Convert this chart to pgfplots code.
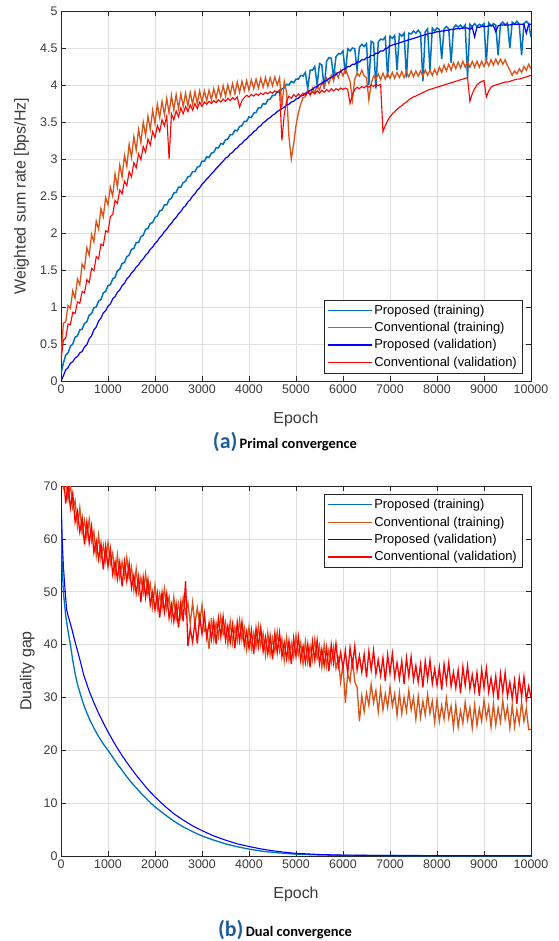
\documentclass[border=0pt]{standalone}
\usepackage{fontspec}
\setmainfont{Liberation Sans}
\newfontfamily\capfont{Carlito}
\usepackage{pgfplots}
\usepackage{pgfplotstable}
\pgfplotsset{compat=1.18}
\definecolor{mlblue}{HTML}{0072BD}
\definecolor{mlorange}{HTML}{D95319}
\definecolor{pureblue}{HTML}{0000FF}
\definecolor{purered}{HTML}{FF0000}
\definecolor{capblue}{HTML}{1B5E9B}
\definecolor{mlgrid}{HTML}{DFDFDF}
\definecolor{mltext}{HTML}{3A3A3A}

% primal: epoch, proposed (training), proposed (validation), conventional (training), conventional (validation)
\pgfplotstableread{
x pt pv ct cv
0 0.10 0.00 0.30 0.28
50 0.24 0.07 0.78 0.55
100 0.35 0.15 0.80 0.58
150 0.38 0.18 1.02 0.77
200 0.47 0.24 0.98 0.76
250 0.50 0.26 1.22 0.93
300 0.59 0.31 1.12 0.91
350 0.61 0.33 1.38 1.07
400 0.69 0.38 1.30 1.05
450 0.70 0.40 1.58 1.21
500 0.78 0.46 1.52 1.19
550 0.80 0.49 1.80 1.37
600 0.89 0.57 1.70 1.33
650 0.91 0.61 1.98 1.52
700 0.99 0.69 1.88 1.49
750 1.00 0.73 2.16 1.68
800 1.08 0.81 2.05 1.65
850 1.10 0.85 2.33 1.85
900 1.19 0.92 2.22 1.83
950 1.21 0.95 2.48 2.03
1000 1.29 1.01 2.38 2.01
1050 1.30 1.04 2.62 2.22
1100 1.38 1.11 2.50 2.25
1150 1.40 1.14 2.80 2.44
1200 1.49 1.20 2.62 2.40
1250 1.51 1.23 2.92 2.58
1300 1.59 1.29 2.76 2.53
1350 1.60 1.32 3.05 2.70
1400 1.68 1.38 2.90 2.64
1450 1.70 1.41 3.20 2.83
1500 1.78 1.46 3.02 2.76
1550 1.79 1.49 3.30 2.95
1600 1.87 1.54 3.12 2.88
1650 1.87 1.57 3.40 3.07
1700 1.95 1.62 3.22 2.99
1750 1.97 1.65 3.50 3.17
1800 2.05 1.70 3.32 3.09
1850 2.06 1.73 3.58 3.27
1900 2.13 1.78 3.40 3.19
1950 2.14 1.81 3.66 3.37
2000 2.21 1.86 3.48 3.29
2050 2.23 1.89 3.74 3.45
2100 2.30 1.94 3.56 3.37
2150 2.31 1.97 3.78 3.53
2200 2.38 2.02 3.60 3.45
2250 2.38 2.05 3.82 3.58
2300 2.45 2.10 3.62 3.00
2350 2.47 2.13 3.86 3.61
2400 2.54 2.18 3.66 3.53
2450 2.55 2.21 3.87 3.65
2500 2.62 2.26 3.68 3.57
2550 2.62 2.29 3.88 3.69
2600 2.68 2.34 3.71 3.61
2650 2.70 2.37 3.89 3.71
2700 2.76 2.42 3.72 3.64
2750 2.77 2.45 3.90 3.73
2800 2.83 2.50 3.74 3.66
2850 2.83 2.53 3.91 3.75
2900 2.89 2.58 3.75 3.68
2950 2.90 2.61 3.92 3.77
3000 2.97 2.66 3.77 3.71
3050 2.97 2.69 3.92 3.77
3100 3.03 2.73 3.79 3.74
3150 3.02 2.76 3.93 3.78
3200 3.08 2.80 3.80 3.75
3250 3.09 2.83 3.95 3.79
3300 3.15 2.87 3.82 3.76
3350 3.15 2.90 3.97 3.80
3400 3.21 2.94 3.84 3.77
3450 3.20 2.97 3.99 3.81
3500 3.26 3.01 3.85 3.78
3550 3.27 3.03 4.00 3.82
3600 3.33 3.07 3.87 3.79
3650 3.33 3.09 4.02 3.83
3700 3.39 3.13 3.88 3.80
3750 3.38 3.15 4.04 3.84
3800 3.44 3.19 3.90 3.70
3850 3.45 3.21 4.05 3.79
3900 3.51 3.25 3.92 3.83
3950 3.51 3.27 4.06 3.86
4000 3.57 3.31 3.93 3.84
4050 3.56 3.33 4.07 3.87
4100 3.62 3.37 3.95 3.85
4150 3.63 3.39 4.08 3.88
4200 3.69 3.43 3.96 3.86
4250 3.69 3.45 4.09 3.89
4300 3.75 3.49 3.97 3.87
4350 3.74 3.51 4.10 3.90
4400 3.80 3.54 3.98 3.88
4450 3.81 3.56 4.10 3.91
4500 3.86 3.59 3.99 3.89
4550 3.86 3.61 4.11 3.92
4600 3.91 3.64 4.00 3.90
4650 3.90 3.66 4.10 3.93
4700 3.95 3.68 3.70 3.25
4750 3.96 3.70 4.05 3.60
4800 4.01 3.73 3.90 3.78
4850 4.00 3.74 3.30 3.85
4900 4.05 3.77 3.00 3.82
4950 4.03 3.78 3.20 3.87
5000 4.08 3.81 3.45 3.84
5050 4.08 3.82 3.62 3.88
5100 4.13 3.85 3.74 3.85
5150 4.12 3.86 3.83 3.89
5200 4.17 3.89 3.84 3.86
5250 3.95 3.90 3.94 3.90
5300 4.20 3.93 3.86 3.87
5350 4.20 3.94 3.96 3.91
5400 4.25 3.97 3.89 3.88
5450 4.00 3.98 4.00 3.92
5500 4.29 4.01 3.93 3.89
5550 4.27 4.02 4.04 3.93
5600 3.95 4.05 3.97 3.90
5650 4.32 4.06 4.09 3.94
5700 4.37 4.09 4.02 3.91
5750 4.36 4.10 4.13 3.95
5800 4.10 4.13 4.06 3.92
5850 4.38 4.14 4.17 3.95
5900 4.42 4.17 4.10 3.93
5950 4.42 4.18 4.20 3.96
6000 4.46 4.21 4.12 3.94
6050 4.15 4.22 4.22 3.96
6100 4.49 4.25 4.14 3.94
6150 4.46 4.25 4.05 3.75
6200 4.50 4.28 3.80 3.86
6250 4.49 4.28 4.08 3.94
6300 4.20 4.31 4.16 3.97
6350 4.51 4.31 4.12 3.95
6400 4.55 4.34 4.20 3.98
6450 4.52 4.34 4.12 3.96
6500 4.56 4.37 4.10 3.99
6550 4.00 4.37 3.80 3.97
6600 4.59 4.40 4.02 4.00
6650 4.57 4.40 4.12 3.98
6700 3.95 4.43 4.08 4.01
6750 4.58 4.43 4.15 3.99
6800 4.62 4.46 4.07 4.01
6850 4.61 4.46 4.16 3.37
6900 4.65 4.49 4.08 3.45
6950 4.10 4.50 4.16 3.52
7000 4.66 4.53 4.09 3.57
7050 4.63 4.54 4.17 3.61
7100 4.67 4.55 4.09 3.64
7150 4.20 4.56 4.17 3.67
7200 4.69 4.57 4.10 3.70
7250 4.66 4.58 4.18 3.72
7300 4.70 4.59 4.10 3.75
7350 4.10 4.60 4.18 3.77
7400 4.70 4.61 4.11 3.80
7450 4.69 4.62 4.19 3.82
7500 4.73 4.63 4.11 3.84
7550 4.70 4.64 4.19 3.85
7600 4.74 4.65 4.12 3.87
7650 4.70 4.66 4.19 3.88
7700 4.05 4.67 4.12 3.90
7750 4.72 4.68 4.20 3.91
7800 4.76 4.69 4.13 3.93
7850 4.20 4.70 4.20 3.94
7900 4.77 4.70 4.13 3.95
7950 4.73 4.71 4.21 3.96
8000 4.77 4.72 4.14 3.97
8050 4.75 4.72 4.24 3.98
8100 4.35 4.73 4.17 3.99
8150 4.76 4.73 4.27 4.00
8200 4.79 4.74 4.19 4.01
8250 4.76 4.74 4.28 4.02
8300 4.30 4.75 4.20 4.03
8350 4.77 4.75 4.30 4.04
8400 4.81 4.76 4.22 4.05
8450 4.78 4.76 4.31 4.06
8500 4.81 4.76 4.23 4.07
8550 4.77 4.77 4.32 4.08
8600 4.81 4.77 4.24 4.09
8650 4.10 4.77 4.32 4.10
8700 4.82 4.75 4.24 3.78
8750 4.79 4.78 4.32 3.88
8800 4.83 4.65 4.24 3.95
8850 4.79 4.78 4.32 4.00
8900 4.82 4.78 4.24 4.03
8950 4.80 4.79 4.32 4.05
9000 4.83 4.79 4.25 4.06
9050 4.30 4.79 4.33 3.84
9100 4.84 4.80 4.26 3.92
9150 4.80 4.80 4.34 3.97
9200 4.83 4.80 4.27 3.99
9250 4.81 4.72 4.35 4.00
9300 4.40 4.80 4.28 4.01
9350 4.82 4.81 4.35 4.02
9400 4.85 4.81 4.28 4.03
9450 4.81 4.81 4.34 4.04
9500 4.84 4.81 4.26 4.04
9550 4.50 4.81 4.20 4.05
9600 4.85 4.82 4.13 4.06
9650 4.82 4.82 4.19 4.07
9700 4.86 4.82 4.15 4.08
9750 4.82 4.82 4.22 4.08
9800 4.40 4.82 4.17 4.09
9850 4.83 4.82 4.25 4.10
9900 4.86 4.70 4.20 4.11
9950 4.83 4.82 4.28 4.12
10000 4.65 4.82 4.22 4.13
}\primal

% dual: epoch, conventional (training), conventional (validation)
\pgfplotstableread{
x ct cv
0 74.6 70.0
50 69.6 72.5
100 71.3 66.7
150 67.5 70.4
200 70.3 65.8
250 65.8 68.6
300 67.2 63.2
350 62.4 65.2
400 65.9 61.3
450 61.1 64.0
500 63.5 58.9
550 60.3 63.2
600 63.7 59.2
650 59.6 62.4
700 61.4 57.4
750 56.8 59.6
800 60.7 56.1
850 56.2 59.1
900 58.8 54.2
950 55.8 58.7
1000 59.3 54.8
1050 55.3 58.1
1100 57.3 53.3
1150 52.9 55.7
1200 57.0 52.4
1250 52.7 55.6
1300 55.6 51.0
1350 52.8 55.7
1400 56.5 52.0
1450 52.6 55.4
1500 54.7 50.7
1550 50.3 53.1
1600 54.3 49.7
1650 49.9 52.8
1700 52.7 48.1
1750 49.8 52.7
1800 53.4 48.9
1850 49.5 52.3
1900 51.5 47.5
1950 47.1 49.9
2000 51.2 46.6
2050 46.8 49.7
2100 49.7 45.1
2150 46.9 49.8
2200 50.6 46.1
2250 46.8 49.6
2300 49.0 45.0
2350 44.8 47.6
2400 49.0 44.4
2450 44.8 47.7
2500 47.8 43.2
2550 45.1 48.0
2600 48.9 44.4
2650 46.0 52.0
2700 47.9 39.7
2750 43.9 43.0
2800 48.0 40.5
2850 43.8 44.3
2900 47.0 40.2
2950 44.0 45.3
3000 47.5 42.0
3050 42.5 45.8
3100 42.9 41.3
3150 39.2 44.1
3200 45.0 41.0
3250 40.9 44.4
3300 44.1 40.1
3350 41.5 45.0
3400 45.4 41.5
3450 41.9 45.3
3500 44.2 40.8
3550 40.1 43.5
3600 44.4 40.4
3650 40.3 43.8
3700 43.3 39.3
3750 40.7 44.2
3800 44.6 40.7
3850 40.9 44.3
3900 43.2 39.8
3950 39.1 42.5
4000 43.3 39.3
4050 39.2 42.7
4100 42.2 38.2
4150 39.6 43.1
4200 43.5 39.6
4250 39.8 43.2
4300 42.1 38.7
4350 38.0 41.4
4400 42.2 38.2
4450 38.1 41.6
4500 41.2 37.2
4550 38.6 42.1
4600 42.4 38.5
4650 38.8 42.2
4700 41.1 37.7
4750 37.0 40.4
4800 41.3 37.3
4850 37.2 40.7
4900 40.3 36.3
4950 37.7 41.2
5000 41.7 37.8
5050 38.1 41.5
5100 40.4 37.0
5150 36.3 39.7
5200 40.6 36.6
5250 36.6 40.1
5300 39.7 35.7
5350 37.1 40.6
5400 41.0 37.1
5450 37.4 40.8
5500 39.8 36.4
5550 35.7 39.1
5600 40.0 36.0
5650 35.9 39.4
5700 39.0 35.0
5750 36.5 40.0
5800 39.5 36.5
5850 35.5 40.2
5900 37.4 35.8
5950 32.9 38.5
6000 36.3 35.5
6050 29.0 38.9
6100 34.5 34.5
6150 33.0 39.4
6200 37.5 36.0
6250 33.0 39.7
6300 31.9 35.2
6350 25.5 37.9
6400 30.3 34.8
6450 27.3 38.2
6500 30.8 33.8
6550 28.5 38.7
6600 32.5 35.2
6650 29.0 38.9
6700 31.3 34.4
6750 27.3 37.1
6800 31.6 34.1
6850 27.6 37.5
6900 30.7 33.1
6950 28.1 38.1
7000 32.0 34.6
7050 28.4 38.3
7100 30.7 33.9
7150 26.6 36.6
7200 30.9 33.5
7250 26.9 36.9
7300 30.0 32.6
7350 27.4 37.5
7400 31.3 34.0
7450 27.7 37.7
7500 30.0 33.3
7550 25.9 36.0
7600 30.2 32.9
7650 26.2 36.3
7700 29.3 31.9
7750 26.7 36.9
7800 30.6 33.4
7850 27.0 37.1
7900 29.3 32.6
7950 25.3 35.4
8000 29.6 32.3
8050 25.5 35.7
8100 28.5 31.4
8150 25.9 36.3
8200 29.8 32.8
8250 26.1 36.6
8300 28.4 32.1
8350 24.3 34.8
8400 28.6 31.8
8450 24.4 35.2
8500 27.5 30.8
8550 25.1 35.8
8600 29.1 32.3
8650 25.7 36.0
8700 28.1 31.6
8750 24.2 34.3
8800 28.6 31.3
8850 24.7 34.7
8900 27.9 30.3
8950 25.5 35.3
9000 29.5 31.8
9050 26.0 35.5
9100 28.4 31.0
9150 24.4 33.7
9200 28.8 30.6
9250 24.8 34.0
9300 28.0 29.6
9350 25.4 34.5
9400 29.4 31.0
9450 25.9 34.7
9500 28.2 30.2
9550 24.2 32.9
9600 28.6 29.8
9650 24.5 33.2
9700 27.7 28.8
9750 25.1 33.7
9800 29.1 30.2
9850 25.5 33.9
9900 27.9 29.4
9950 23.9 32.1
10000 24.0 30.0
}\dual

\pgfplotsset{
  mlstyle/.style={
    scale only axis, width=470bp, height=370bp,
    xmin=0, xmax=10000, xtick={0,1000,...,10000},
    scaled x ticks=false,
    /pgf/number format/1000 sep={},
    /pgf/number format/assume math mode=true,
    grid=major, major grid style={mlgrid, line width=0.6bp},
    axis line style={black!85, line width=0.6bp},
    tick style={black!85, line width=0.6bp},
    tick align=inside, major tick length=4.7bp,
    tick label style={font=\fontsize{12.5}{14}\selectfont, text=mltext},
    label style={font=\fontsize{16}{18}\selectfont, text=mltext},
    xlabel={Epoch},
    xlabel style={at={(axis description cs:0.5,-0.103)}, anchor=center},
    legend cell align=left,
    legend style={draw=black!85, line width=0.5bp, fill=white,
      font=\fontsize{13}{15}\selectfont, inner xsep=3bp, inner ysep=3bp,
      row sep=2.5bp},
    legend image code/.code={\draw[#1, line width=1.2bp] (0bp,0bp) -- (44bp,0bp);},
    every axis plot/.append style={line width=1.1bp},
  }
}

\begin{document}
\begin{tikzpicture}
\useasboundingbox (-61bp,-560bp) rectangle (498bp,381bp);

\begin{axis}[mlstyle, at={(0bp,0bp)},
  ymin=0, ymax=5, ytick={0,0.5,1,1.5,2,2.5,3,3.5,4,4.5,5},
  ylabel={Weighted sum rate [bps/Hz]},
  ylabel style={at={(axis description cs:-0.084,0.5)}, anchor=center},
  legend style={at={(0.981,0.0216)}, anchor=south east},
]
\addplot[color=mlblue, line width=1.5bp] table[x=x, y=pt] {\primal};
\addlegendentry{Proposed (training)}
\addplot[color=mlorange, line width=1.3bp] table[x=x, y=ct] {\primal};
\addlegendentry{Conventional (training)}
\addplot[color=pureblue, line width=1.2bp] table[x=x, y=pv] {\primal};
\addlegendentry{Proposed (validation)}
\addplot[color=purered] table[x=x, y=cv] {\primal};
\addlegendentry{Conventional (validation)}
\end{axis}

\node[anchor=center] at (224bp,-61bp) {\capfont\bfseries{\fontsize{22}{24}\selectfont\color{capblue}(a)} \fontsize{14.5}{16}\selectfont Primal convergence};

\begin{axis}[mlstyle, at={(0bp,-475bp)},
  ymin=0, ymax=70, ytick={0,10,20,30,40,50,60,70},
  ylabel={Duality gap},
  ylabel style={at={(axis description cs:-0.072,0.5)}, anchor=center},
  legend style={at={(0.981,0.978)}, anchor=north east},
]
\addplot[color=mlblue, line width=1.3bp] coordinates {
  (0,66) (25,55) (50,50) (100,45.5) (150,42.5) (200,40) (250,37) (300,34.5)
  (350,32.5) (400,31) (450,29.5) (500,28.2) (600,26) (700,24.2) (800,22.6)
  (900,21.2) (1000,20) (1100,18.7) (1200,17.4) (1300,16.2) (1400,15.0)
  (1500,13.9) (1600,12.9) (1700,11.9) (1800,11.0) (1900,10.1) (2000,9.3)
  (2200,7.9) (2400,6.6) (2600,5.5) (2800,4.6) (3000,3.8) (3250,3.0) (3500,2.3)
  (3750,1.75) (4000,1.3) (4250,0.95) (4500,0.7) (4750,0.5) (5000,0.35)
  (5500,0.2) (6000,0.12) (7000,0.07) (8000,0.05) (10000,0.04)};
\addlegendentry{Proposed (training)}
\addplot[color=mlorange, line width=1.3bp] table[x=x, y=ct] {\dual};
\addlegendentry{Conventional (training)}
\addplot[color=pureblue, line width=1.1bp] coordinates {
  (0,69) (25,60) (50,55) (85,50.4) (120,46.6) (150,45.5) (230,43) (300,40.5)
  (400,37.2) (470,34.7) (500,33.8) (600,31.2) (700,29) (800,27) (900,25.2)
  (1000,23.5) (1100,21.9) (1200,20.4) (1300,19) (1400,17.7) (1500,16.5)
  (1600,15.3) (1700,14.2) (1800,13.1) (1900,12.1) (2000,11.2) (2200,9.5)
  (2400,8.0) (2600,6.8) (2800,5.7) (3000,4.8) (3250,3.8) (3500,3.0) (3750,2.3)
  (4000,1.8) (4250,1.35) (4500,1.0) (4750,0.72) (5000,0.5) (5500,0.28)
  (6000,0.17) (7000,0.1) (8000,0.08) (10000,0.07)};
\addlegendentry{Proposed (validation)}
\addplot[color=purered, line width=1.3bp] table[x=x, y=cv] {\dual};
\addlegendentry{Conventional (validation)}
\end{axis}

\node[anchor=center] at (224bp,-549bp) {\capfont\bfseries{\fontsize{22}{24}\selectfont\color{capblue}(b)} \fontsize{14.5}{16}\selectfont Dual convergence};
\end{tikzpicture}
\end{document}
